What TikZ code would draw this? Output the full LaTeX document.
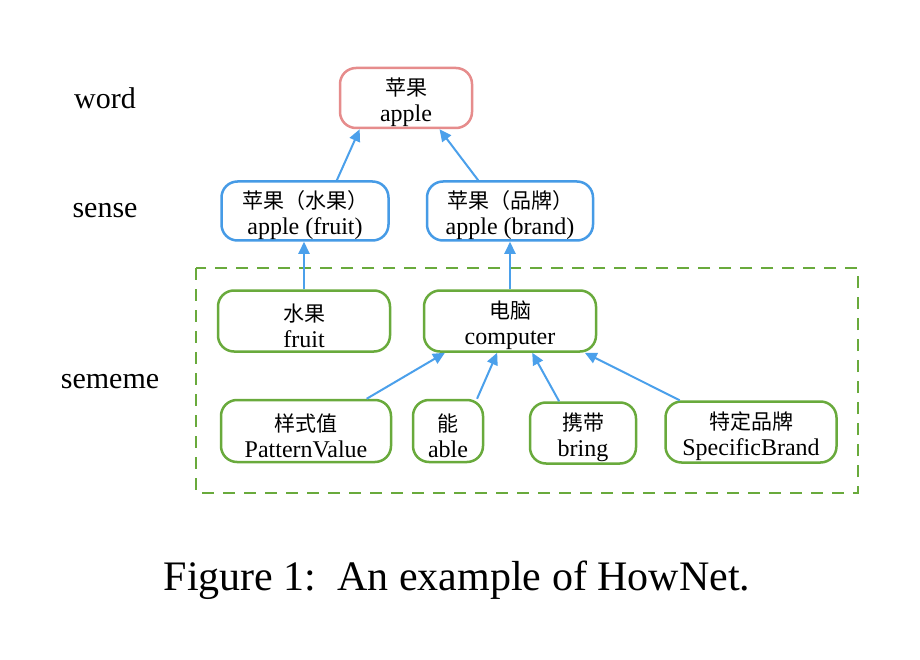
\documentclass[tikz,border=0pt]{standalone}
\usepackage{fontspec}
\setmainfont{Liberation Serif}
\newfontfamily\cjk{Noto Sans CJK SC}
\usetikzlibrary{arrows.meta}
\definecolor{wordred}{RGB}{230,140,140}
\definecolor{senseblue}{RGB}{70,155,230}
\definecolor{semgreen}{RGB}{105,170,60}
\definecolor{arrowblue}{RGB}{75,160,235}
\newcommand{\zh}[1]{{\cjk\fontsize{21}{24}\selectfont\rule{0pt}{27pt}#1}}
\tikzset{
  box/.style={rectangle, rounded corners=16pt, line width=2.5pt, fill=white,
    align=center, inner sep=0pt, font=\fontsize{24}{26}\selectfont},
  wordbox/.style={box, draw=wordred},
  sensebox/.style={box, draw=senseblue},
  sembox/.style={box, draw=semgreen},
  lvl/.style={font=\fontsize{30}{32}\selectfont},
  arr/.style={draw=arrowblue, line width=2pt, -{Triangle[length=12pt,width=11pt]}}
}
\begin{document}
\begin{tikzpicture}[x=1pt,y=-1pt]
\useasboundingbox[fill=white] (0,0) rectangle (920,660);
% dashed sememe frame
\draw[semgreen, line width=2pt, dash pattern=on 12pt off 9pt] (196,268) rectangle (858,493);
% level labels
\node[lvl] (lw) at (105,98) {word};
\node[lvl] (ls) at (105,211) {sense};
\node[lvl] (lm) at (110,382) {sememe};
% nodes
\node[wordbox, minimum width=132pt, minimum height=60pt] (word) at (406,98) {\zh{苹果}\\apple};
\node[sensebox, minimum width=167pt, minimum height=59pt] (s1) at (305,211) {\zh{苹果（水果）}\\apple (fruit)};
\node[sensebox, minimum width=166pt, minimum height=59pt] (s2) at (510,211) {\zh{苹果（品牌）}\\apple (brand)};
\node[sembox, minimum width=172pt, minimum height=61pt] (fr) at (304,321) {\zh{水果}\\fruit};
\node[sembox, minimum width=172pt, minimum height=61pt] (cp) at (510,321) {\zh{电脑}\\computer};
\node[sembox, minimum width=170pt, minimum height=62pt] (pv) at (306,431) {\zh{样式值}\\PatternValue};
\node[sembox, minimum width=70pt, minimum height=62pt] (ab) at (448,431) {\zh{能}\\able};
\node[sembox, minimum width=106pt, minimum height=61pt] (br) at (583,433) {\zh{携带}\\bring};
\node[sembox, minimum width=171pt, minimum height=61pt] (sb) at (751,432) {\zh{特定品牌}\\SpecificBrand};
% arrows
\draw[arr] (s1.44) -- (word.214);
\draw[arr] (s2.136) -- (word.317);
\draw[arr] (fr.north) -- (fr.north |- s1.south);
\draw[arr] (cp.north) -- (cp.north |- s2.south);
\draw[arr] (pv.28.5) -- (cp.206);
\draw[arr] (ab.48) -- (cp.248);
\draw[arr] (br.127.5) -- (cp.305.7);
\draw[arr] (sb.156.6) -- (cp.337);
% caption
\node[font=\fontsize{42}{46}\selectfont] (cap) at (457,580) {Figure 1:\, An example of HowNet.};
\end{tikzpicture}
\end{document}
